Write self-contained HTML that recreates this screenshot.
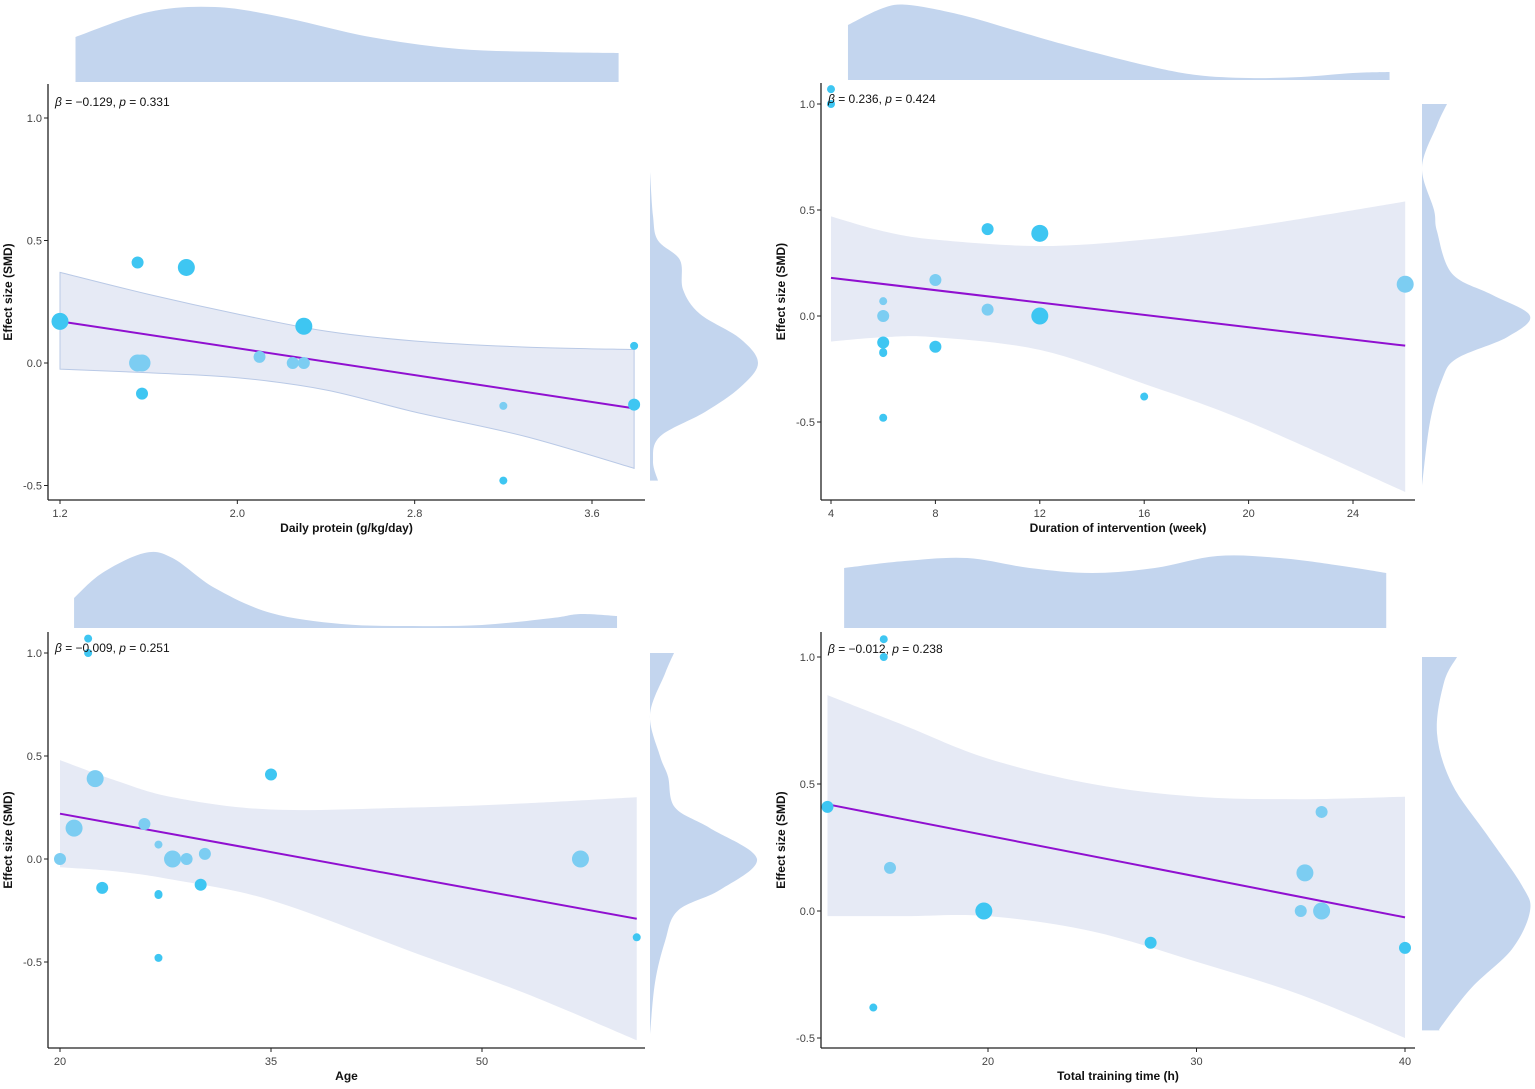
<!DOCTYPE html>
<html><head><meta charset="utf-8"><style>
html,body{margin:0;padding:0;background:#fff}
svg{display:block}
text{font-family:"Liberation Sans",sans-serif}
</style></head><body>
<svg id="fig" width="1535" height="1089" viewBox="0 0 1535 1089"></svg>
<script>
// ---------- Panel 1: Daily protein ----------
const p1X=[1.2,1.55,1.77,1.55,1.57,1.57,2.1,2.25,2.3,2.3,3.2,3.2,3.79,3.79];
const p1Y=[0.17,0.41,0.39,0.0,0.0,-0.125,0.025,0,0,0.15,-0.175,-0.48,0.07,-0.17];
const p1S=[2,1,2,2,2,1,1,1,1,2,0,0,0,1];
const p1L=[0,0,0,1,1,0,1,1,1,0,1,0,0,0];
const p1Line=[[1.2,0.17],[3.79,-0.185]];
const p1BandX=[1.2,1.6,2.0,2.4,2.8,3.3,3.79];
const p1BandU=[0.37,0.28,0.2,0.13,0.09,0.065,0.055];
const p1BandL=[-0.025,-0.04,-0.06,-0.11,-0.2,-0.3,-0.43];
const p1TopX=[1.27,1.6,1.9,2.2,2.6,3.0,3.4,3.72];
const p1TopH=[45,70,75,65,45,33,30,29];
const p1RightV=[0.78,0.6,0.5,0.42,0.3,0.2,0.1,0.0,-0.1,-0.2,-0.3,-0.4,-0.48];
const p1RightW=[0,3,8,30,33,50,90,108,90,55,10,3,8];
const p1XTicks=[1.2,2.0,2.8,3.6];
const p1XTickLabels=["1.2","2.0","2.8","3.6"];
// ---------- Panel 2: Duration ----------
const p2X=[4,4,6,6,6,6,6,6,8,8,10,10,12,12,16,26];
const p2Y=[1.07,1.0,0.07,0,-0.125,-0.175,-0.17,-0.48,0.17,-0.145,0.41,0.03,0.39,0,-0.38,0.15];
const p2S=[0,0,0,1,1,0,0,0,1,1,1,1,2,2,0,2];
const p2L=[0,0,1,1,0,0,0,0,1,0,0,1,0,0,0,1];
const p2Line=[[4,0.18],[26,-0.14]];
const p2BandX=[4,6,8,12,16,20,26];
const p2BandU=[0.47,0.4,0.36,0.33,0.36,0.42,0.54];
const p2BandL=[-0.12,-0.1,-0.1,-0.16,-0.32,-0.5,-0.83];
const p2TopX=[4.65,6,7,9,11,13,16,18,20,22,24,25.4];
const p2TopH=[55,72,75,65,50,35,15,5,2,3,7,8];
const p2RightV=[1.0,0.9,0.7,0.5,0.4,0.2,0.1,0.0,-0.1,-0.2,-0.3,-0.5,-0.8];
const p2RightW=[25,15,0,12,15,30,70,108,85,35,20,8,0];
const p2XTicks=[4,8,12,16,20,24];
const p2XTickLabels=["4","8","12","16","20","24"];
// ---------- Panel 3: Age ----------
const p3X=[20,21,22,22,22.5,23,26,27,27,27,27,28,29,30,30.3,35,57,61];
const p3Y=[0,0.15,1.07,1.0,0.39,-0.14,0.17,0.07,-0.17,-0.175,-0.48,0,0,-0.125,0.025,0.41,0,-0.38];
const p3S=[1,2,0,0,2,1,1,0,0,0,0,2,1,1,1,1,2,0];
const p3L=[1,1,0,0,1,0,1,1,0,0,0,1,1,0,1,0,1,0];
const p3Line=[[20,0.22],[61,-0.29]];
const p3BandX=[20,24,28,35,45,53,61];
const p3BandU=[0.48,0.38,0.3,0.24,0.25,0.27,0.3];
const p3BandL=[-0.04,-0.06,-0.1,-0.2,-0.45,-0.65,-0.88];
const p3TopX=[21,23,26,28,31,35,40,45,50,55,57,59.6];
const p3TopH=[30,55,75,70,40,15,4,2,3,10,14,12];
const p3RightV=[1.0,0.9,0.7,0.5,0.4,0.25,0.15,0.0,-0.15,-0.25,-0.4,-0.6,-0.85];
const p3RightW=[24,15,0,10,18,25,60,107,70,28,15,5,0];
const p3XTicks=[20,35,50];
const p3XTickLabels=["20","35","50"];
// ---------- Panel 4: Total training time ----------
const p4X=[12.3,14.5,15,15,15.3,19.8,27.8,35,35.2,36,36,40];
const p4Y=[0.41,-0.38,1.07,1.0,0.17,0,-0.125,0,0.15,0.39,0,-0.145];
const p4S=[1,0,0,0,1,2,1,1,2,1,2,1];
const p4L=[0,0,0,0,1,0,0,1,1,1,1,0];
const p4Line=[[12.3,0.42],[40,-0.025]];
const p4BandX=[12.3,16,20,25,30,35,40];
const p4BandU=[0.85,0.73,0.6,0.5,0.45,0.44,0.45];
const p4BandL=[-0.02,-0.02,-0.02,-0.08,-0.2,-0.33,-0.5];
const p4TopX=[13.1,16,19,22,25,28,31,34,37,39.1];
const p4TopH=[60,67,70,60,55,60,72,70,62,55];
const p4RightV=[1.0,0.9,0.7,0.5,0.3,0.1,0.0,-0.15,-0.3,-0.45,-0.47];
const p4RightW=[35,22,15,30,65,100,108,90,50,20,18];
const p4XTicks=[20,30,40];
const p4XTickLabels=["20","30","40"];

const yTicks=[-0.5,0,0.5,1.0];
const yTickLabels=["-0.5","0.0","0.5","1.0"];

const NS="http://www.w3.org/2000/svg";
const svg=document.getElementById('fig');
function mk(tag,attrs,parent){const e=document.createElementNS(NS,tag);for(const k in attrs)e.setAttribute(k,attrs[k]);(parent||svg).appendChild(e);return e;}

function curve(pts){
  let d='';
  for(let i=0;i<pts.length-1;i++){
    const p0=pts[Math.max(0,i-1)],p1=pts[i],p2=pts[i+1],p3=pts[Math.min(pts.length-1,i+2)];
    d+=` C${p1[0]+(p2[0]-p0[0])/6},${p1[1]+(p2[1]-p0[1])/6} ${p2[0]-(p3[0]-p1[0])/6},${p2[1]-(p3[1]-p1[1])/6} ${p2[0]},${p2[1]}`;
  }
  return d;
}
function smooth(pts,base){
  return `M${pts[0][0]},${base} L${pts[0][0]},${pts[0][1]}`+curve(pts)+` L${pts[pts.length-1][0]},${base} Z`;
}
function smoothV(pts,base){
  return `M${base},${pts[0][1]} L${pts[0][0]},${pts[0][1]}`+curve(pts)+` L${base},${pts[pts.length-1][1]} Z`;
}

function panel(cfg){
  const g=mk('g',{});
  
  
  const sx=v=>cfg.x0px+(v-cfg.x0)*(cfg.x1px-cfg.x0px)/(cfg.x1-cfg.x0);
  const sy=v=>cfg.y0px+v*(cfg.y1px-cfg.y0px);
  const td=mk('path',{d:smooth(cfg.topX.map((v,i)=>[sx(v),cfg.topBase-cfg.topH[i]]),cfg.topBase),fill:'#c3d5ee'},g);
  
  
  const rd=mk('path',{d:smoothV(cfg.rV.map((v,i)=>[cfg.rBase+cfg.rW[i],sy(v)]),cfg.rBase),fill:'#c3d5ee'},g);
  
  
  const up=cfg.bX.map((v,i)=>[sx(v),sy(cfg.bU[i])]);
  const lo=cfg.bX.map((v,i)=>[sx(v),sy(cfg.bL[i])]).reverse();
  const bd=`M${up[0][0]},${up[0][1]}`+curve(up)+` L${lo[0][0]},${lo[0][1]}`+curve(lo)+' Z';
  const band=mk('path',{d:bd,fill:'#e6eaf5',stroke:cfg.bandStroke?'#b9c9e6':'none','stroke-width':1},g);
  
  
  const ln=mk('line',{x1:sx(cfg.line[0][0]),y1:sy(cfg.line[0][1]),x2:sx(cfg.line[1][0]),y2:sy(cfg.line[1][1]),stroke:'#9010d0','stroke-width':2},g);
  
  
  const rs=[4,6,8.5];
  cfg.px.forEach((v,i)=>{
    const c=mk('circle',{cx:sx(v),cy:sy(cfg.py[i]),r:rs[cfg.ps[i]],fill:cfg.pl[i]?'#7ccdf2':'#3ec6f2'},g);
    
    
  });
  const ay=mk('line',{x1:cfg.axX,y1:cfg.axTop,x2:cfg.axX,y2:cfg.axY,stroke:'#222','stroke-width':1.3},g);
  
  
  const ax=mk('line',{x1:cfg.axX,y1:cfg.axY,x2:cfg.axRight,y2:cfg.axY,stroke:'#222','stroke-width':1.3},g);
  
  
  yTicks.forEach((v,i)=>{
    const y=sy(v);
    mk('line',{x1:cfg.axX-4,y1:y,x2:cfg.axX,y2:y,stroke:'#222'},g);
    const t=mk('text',{x:cfg.axX-6,y:y+4,'text-anchor':'end','font-size':11,fill:'#444'},g);
    t.textContent=yTickLabels[i];
    
    
  });
  cfg.xt.forEach((v,i)=>{
    const x=sx(v);
    mk('line',{x1:x,y1:cfg.axY,x2:x,y2:cfg.axY+4,stroke:'#222'},g);
    const t=mk('text',{x:x,y:cfg.axY+17,'text-anchor':'middle','font-size':11,fill:'#444'},g);
    t.textContent=cfg.xtl[i];
    
    
  });
  const xl=mk('text',{x:(cfg.axX+cfg.axRight)/2,y:cfg.axY+32,'text-anchor':'middle','font-size':12,'font-weight':'bold',fill:'#111'},g);
  xl.textContent=cfg.xlabel;
  
  
  const cy=(cfg.axTop+cfg.axY)/2;
  const yl=mk('text',{x:cfg.axX-36,y:cy,'text-anchor':'middle','font-size':12,'font-weight':'bold',fill:'#111',transform:`rotate(-90 ${cfg.axX-36} ${cy})`},g);
  yl.textContent='Effect size (SMD)';
  
  
  const an=mk('text',{x:cfg.axX+7,y:cfg.annY,'font-size':12,fill:'#111'},g);
  an.innerHTML=`<tspan font-style="italic">β</tspan> = ${cfg.beta}, <tspan font-style="italic">p</tspan> = ${cfg.p}`;
  
  
}

panel({name:'panel-daily-protein',x0:1.2,x1:3.6,x0px:60,x1px:592,y0px:363,y1px:118,
  px:p1X,py:p1Y,ps:p1S,pl:p1L,line:p1Line,bX:p1BandX,bU:p1BandU,bL:p1BandL,bandStroke:true,
  topX:p1TopX,topH:p1TopH,topBase:82,rV:p1RightV,rW:p1RightW,rBase:650,
  axX:48,axTop:84,axY:500,axRight:645,xt:p1XTicks,xtl:p1XTickLabels,xlabel:'Daily protein (g/kg/day)',annY:106,beta:'−0.129',p:'0.331'});
panel({name:'panel-duration',x0:4,x1:24,x0px:831,x1px:1353,y0px:316,y1px:104,
  px:p2X,py:p2Y,ps:p2S,pl:p2L,line:p2Line,bX:p2BandX,bU:p2BandU,bL:p2BandL,bandStroke:false,
  topX:p2TopX,topH:p2TopH,topBase:80,rV:p2RightV,rW:p2RightW,rBase:1422,
  axX:821,axTop:83,axY:500,axRight:1415,xt:p2XTicks,xtl:p2XTickLabels,xlabel:'Duration of intervention (week)',annY:103,beta:'0.236',p:'0.424'});
panel({name:'panel-age',x0:20,x1:50,x0px:60,x1px:482,y0px:859,y1px:653,
  px:p3X,py:p3Y,ps:p3S,pl:p3L,line:p3Line,bX:p3BandX,bU:p3BandU,bL:p3BandL,bandStroke:false,
  topX:p3TopX,topH:p3TopH,topBase:628,rV:p3RightV,rW:p3RightW,rBase:650,
  axX:48,axTop:632,axY:1048,axRight:645,xt:p3XTicks,xtl:p3XTickLabels,xlabel:'Age',annY:652,beta:'−0.009',p:'0.251'});
panel({name:'panel-training-time',x0:20,x1:40,x0px:988,x1px:1405,y0px:911,y1px:657,
  px:p4X,py:p4Y,ps:p4S,pl:p4L,line:p4Line,bX:p4BandX,bU:p4BandU,bL:p4BandL,bandStroke:false,
  topX:p4TopX,topH:p4TopH,topBase:628,rV:p4RightV,rW:p4RightW,rBase:1422,
  axX:821,axTop:632,axY:1048,axRight:1415,xt:p4XTicks,xtl:p4XTickLabels,xlabel:'Total training time (h)',annY:653,beta:'−0.012',p:'0.238'});
</script>
</body></html>
